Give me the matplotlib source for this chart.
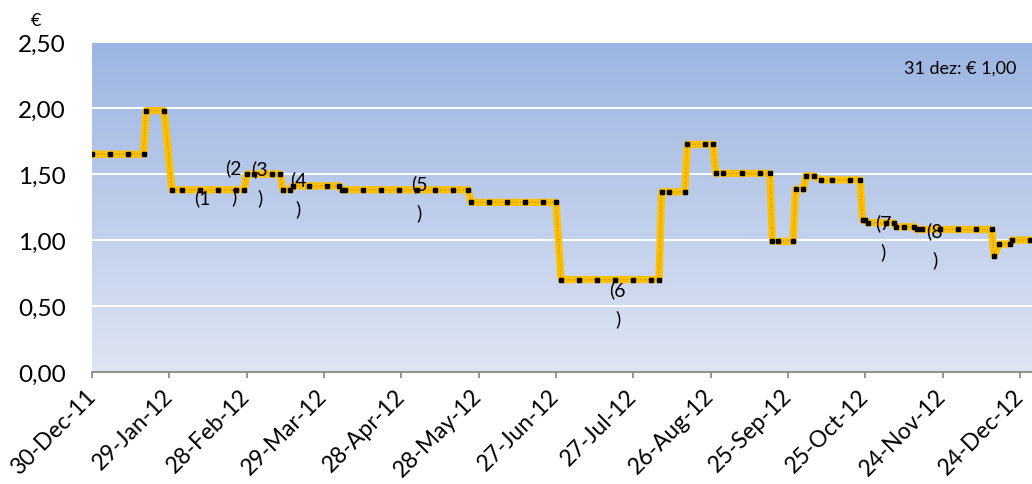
import numpy as np
import pandas as pd
import matplotlib
matplotlib.use("Agg")
import matplotlib.pyplot as plt
import matplotlib.dates as mdates
from matplotlib.ticker import FuncFormatter, MultipleLocator
from matplotlib.transforms import ScaledTranslation

plt.rcParams['font.family'] = ['Lato', 'DejaVu Sans']

# price points: weekly readings plus the days around each change
dates = ["2011-12-30", "2012-01-06", "2012-01-13", "2012-01-19", "2012-01-20",
         "2012-01-27", "2012-01-30", "2012-02-03", "2012-02-10", "2012-02-17",
         "2012-02-24", "2012-02-27", "2012-02-28", "2012-03-02", "2012-03-09",
         "2012-03-12", "2012-03-13", "2012-03-16", "2012-03-17", "2012-03-23",
         "2012-03-30", "2012-04-04", "2012-04-05", "2012-04-06", "2012-04-13",
         "2012-04-20", "2012-04-27", "2012-05-04", "2012-05-11", "2012-05-18",
         "2012-05-24", "2012-05-25", "2012-06-01", "2012-06-08", "2012-06-15",
         "2012-06-22", "2012-06-27", "2012-06-29", "2012-07-06", "2012-07-13",
         "2012-07-20", "2012-07-27", "2012-08-03", "2012-08-06", "2012-08-07",
         "2012-08-10", "2012-08-16", "2012-08-17", "2012-08-24", "2012-08-27",
         "2012-08-28", "2012-08-31", "2012-09-07", "2012-09-14", "2012-09-18",
         "2012-09-19", "2012-09-21", "2012-09-27", "2012-09-28", "2012-10-01",
         "2012-10-02", "2012-10-05", "2012-10-08", "2012-10-12", "2012-10-19",
         "2012-10-23", "2012-10-24", "2012-10-25", "2012-10-26", "2012-11-02",
         "2012-11-05", "2012-11-06", "2012-11-09", "2012-11-13", "2012-11-14",
         "2012-11-16", "2012-11-23", "2012-11-30", "2012-12-07", "2012-12-13",
         "2012-12-14", "2012-12-16", "2012-12-20", "2012-12-21", "2012-12-28",
         "2012-12-31"]
prices = [1.65, 1.65, 1.65, 1.65, 1.98,
          1.98, 1.38, 1.38, 1.38, 1.38,
          1.38, 1.38, 1.50, 1.50, 1.50,
          1.50, 1.38, 1.38, 1.41, 1.41,
          1.41, 1.41, 1.38, 1.38, 1.38,
          1.38, 1.38, 1.38, 1.38, 1.38,
          1.38, 1.285, 1.285, 1.285, 1.285,
          1.285, 1.285, 0.70, 0.70, 0.70,
          0.70, 0.70, 0.70, 0.70, 1.365,
          1.365, 1.365, 1.725, 1.725, 1.725,
          1.505, 1.505, 1.505, 1.505, 1.505,
          0.99, 0.99, 0.99, 1.385, 1.385,
          1.485, 1.485, 1.455, 1.455, 1.455,
          1.455, 1.15, 1.15, 1.13, 1.13,
          1.13, 1.10, 1.10, 1.10, 1.08,
          1.08, 1.08, 1.08, 1.08, 1.08,
          0.88, 0.97, 0.97, 1.00, 1.00,
          1.00]

notes = ["(1", "(2\n)", "(3\n)", "(4\n)", "(5\n)", "(6\n)", "(7\n)", "(8\n)"]
note_dates = ["2012-02-11", "2012-02-23", "2012-03-04", "2012-03-19",
              "2012-05-05", "2012-07-21", "2012-11-01", "2012-11-21"]
note_y = [1.323, 1.439, 1.432, 1.351, 1.318, 0.515, 1.023, 0.962]

x = pd.to_datetime(dates)

fig = plt.figure(figsize=(10.32, 4.85), dpi=100)
ax = fig.add_axes([92 / 1032, 112 / 485, 940 / 1032, 330 / 485])

# gradient background of the plot area
top = np.array([156, 181, 226]) / 255
bottom = np.array([222, 229, 243]) / 255
t = np.linspace(0, 1, 256)[:, None]
grad = (top * (1 - t) + bottom * t)[:, None, :]
ax.imshow(grad, aspect='auto', extent=[0, 1, 0, 1], transform=ax.transAxes, zorder=0)

start = mdates.date2num(pd.Timestamp("2011-12-30"))
ax.set_xlim(start, start + 364.7)
ax.set_ylim(0, 2.5)

ax.yaxis.set_major_locator(MultipleLocator(0.5))
ax.yaxis.set_major_formatter(FuncFormatter(lambda v, p: f"{v:.2f}".replace('.', ',')))
ax.grid(axis='y', color='white', lw=1.4, zorder=1)
ax.set_axisbelow(False)

ticks = pd.date_range("2011-12-30", periods=13, freq="30D")
ax.set_xticks(mdates.date2num(ticks))
ax.set_xticklabels([d.strftime("%d-%b-%y") for d in ticks], rotation=45,
                   ha='right', va='center', rotation_mode='anchor')
shift = ScaledTranslation(9 / 100, 0, fig.dpi_scale_trans)
for lab in ax.get_xticklabels():
    lab.set_transform(lab.get_transform() + shift)

ax.plot(x, prices, color='#FFC000', lw=5.2, solid_joinstyle='round', zorder=3)
ax.plot(x, prices, color='#3c3c3c', lw=1.0, dashes=(0.5, 1.3), alpha=0.45, zorder=4)
ax.plot(x, prices, ls='none', marker='s', ms=2.3, color='black', zorder=5)

for s in ['top', 'right', 'left']:
    ax.spines[s].set_visible(False)
ax.spines['bottom'].set_color('#868686')
ax.spines['bottom'].set_linewidth(1.3)
ax.spines['bottom'].set_zorder(6)
ax.tick_params(axis='y', length=0, pad=19, labelsize=17.5)
ax.tick_params(axis='x', length=4.5, width=1.2, color='#868686', pad=10, labelsize=16.5)

for txt, d, yv in zip(notes, note_dates, note_y):
    ax.text(mdates.date2num(pd.Timestamp(d)), yv, txt, ha='center', va='center',
            multialignment='center', fontsize=14, linespacing=1.75, zorder=7)

ax.text(0.983, 0.921, "31 dez: € 1,00", transform=ax.transAxes, ha='right',
        va='center', fontsize=13)
fig.text(36 / 1032, 1 - 21 / 485, "€", ha='center', va='center', fontsize=13)

fig.savefig("out.png", dpi=100)
